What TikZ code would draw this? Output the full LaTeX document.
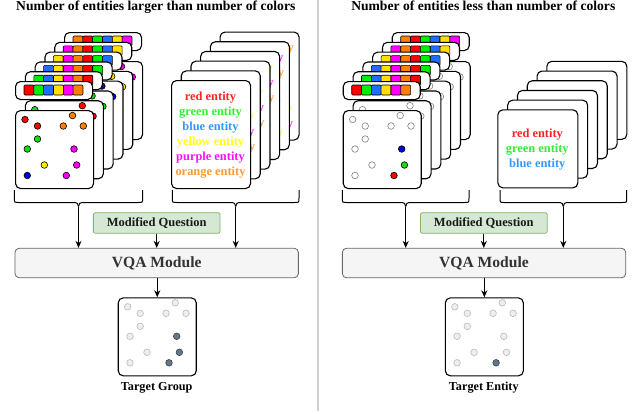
\documentclass[tikz,border=0pt]{standalone}
\usepackage{fontspec}
\setmainfont{Liberation Serif}
\usetikzlibrary{arrows.meta}
\definecolor{s0}{HTML}{FF0000}
\definecolor{s1}{HTML}{00EE00}
\definecolor{s2}{HTML}{1F6FFF}
\definecolor{s3}{HTML}{FFE000}
\definecolor{s4}{HTML}{FF00FF}
\definecolor{s5}{HTML}{FF8000}
\definecolor{d0}{HTML}{FF0000}
\definecolor{d1}{HTML}{11DD11}
\definecolor{d2}{HTML}{0000DD}
\definecolor{d3}{HTML}{FFEE00}
\definecolor{d4}{HTML}{FF00FF}
\definecolor{d5}{HTML}{FF8000}
\definecolor{t0}{HTML}{FF2222}
\definecolor{t1}{HTML}{33EE33}
\definecolor{t2}{HTML}{3399FF}
\definecolor{t3}{HTML}{FFFF11}
\definecolor{t4}{HTML}{FF11FF}
\definecolor{t5}{HTML}{FF9933}
\definecolor{mqfill}{HTML}{D5E8D4}
\definecolor{mqdraw}{HTML}{82B366}
\definecolor{vqafill}{HTML}{F5F5F5}
\definecolor{vqadraw}{HTML}{666666}
\definecolor{tgfill}{HTML}{EEEEEE}
\definecolor{tgdraw}{HTML}{BBBBBB}
\definecolor{dkfill}{HTML}{647687}
\definecolor{dkdraw}{HTML}{314354}
\definecolor{sepcol}{HTML}{D0D0D0}
\definecolor{graydot}{HTML}{808080}
\newcommand\entname[1]{\ifcase#1 red\or green\or blue\or yellow\or purple\or orange\fi\ entity}
\def\dotsL{10/9.5/0,22.5/16/0,57.5/5.5/5,48.3/16/5,68.3/16/5,22.5/29/1,12.3/39/1,59/39/4,29.3/55/3,61.7/55/4,12.3/65.5/2,51.3/65.5/4}
\def\dotsR{10/9.5/9,22.5/16/9,57.5/5.5/9,48.3/16/9,68.3/16/9,22.5/29/9,12.3/39/9,59/39/2,29.3/55/9,61.7/55/1,12.3/65.5/9,51.3/65.5/0}
\begin{document}
\begin{tikzpicture}[x=1pt,y=-1pt,
  card/.style={draw=black, fill=white, line width=1.1pt, rounded corners=5pt, inner sep=0pt, anchor=north west},
  bannerbox/.style={draw=black, fill=white, line width=1.1pt, rounded corners=5pt, minimum width=77pt, minimum height=18pt, inner sep=0pt, anchor=north west},
  sq/.style={draw=black, line width=.6pt, rounded corners=1pt},
  cdot/.style={draw=black, line width=.6pt},
  gdot/.style={draw=graydot, fill=white, line width=.6pt},
  tglight/.style={draw=tgdraw, fill=tgfill, line width=.6pt},
  tgdark/.style={draw=dkdraw, fill=dkfill, line width=.6pt},
  enttext/.style={font=\bfseries\fontsize{12.4}{14}\selectfont, inner sep=0pt},
  titletext/.style={font=\bfseries\fontsize{13.6}{16}\selectfont, inner sep=0pt, anchor=base},
  mqbox/.style={draw=mqdraw, fill=mqfill, line width=.8pt, rounded corners=2pt, minimum height=20.6pt, minimum width=126.7pt, inner sep=0pt, font=\bfseries\fontsize{12.5}{14}\selectfont, text=black!90},
  vqabox/.style={draw=vqadraw, fill=vqafill, line width=.8pt, rounded corners=4pt, minimum height=29.4pt, minimum width=283.3pt, inner sep=0pt, font=\bfseries\fontsize{15.6}{18}\selectfont, text=black!80},
  bracestyle/.style={draw=black, line width=1pt},
  arr/.style={draw=black, line width=1pt, -{Stealth[length=7pt,width=6pt]}},
  lbl/.style={font=\bfseries\fontsize{12.2}{14}\selectfont, inner sep=0pt, anchor=base}
]
\useasboundingbox (0,0) rectangle (634,413);
\fill[white] (0,0) rectangle (634,413);
% separator
\draw[sepcol, line width=1.3pt] (318,0) -- (318,411);
% titles
\node[titletext] (TL) at (155.8,10.3) {Number of entities larger than number of colors};
\node[titletext] (TR) at (483.3,10.3) {Number of entities less than number of colors};

% ---------- left image stack ----------
\foreach \k in {5,4,3,2,1,0}{
  \pgfmathsetmacro\xo{15+9.8*\k}
  \pgfmathsetmacro\yo{110-9.8*\k}
  \node[card, minimum width=78pt, minimum height=78pt] (Limg\k) at (\xo,\yo) {};
  \foreach \a/\b/\c in \dotsL {
    \pgfmathtruncatemacro\cc{mod(\c+\k,6)}
    \filldraw[cdot, fill=d\cc] (\xo+\a,\yo+\b) circle[radius=3.3pt];
  }
  \node[bannerbox] (Lban\k) at (\xo,\yo-29) {};
  \foreach \j in {0,...,5}{
    \pgfmathtruncatemacro\cc{mod(\j+\k,6)}
    \filldraw[sq, fill=s\cc] (\xo+9+9.83*\j,\yo-25) rectangle ++(9.83,10);
  }
}
% ---------- left text stack ----------
\foreach \k in {5,4,3,2,1}{
  \pgfmathsetmacro\xo{171+9.7*\k}
  \pgfmathsetmacro\yo{80-9.7*\k}
  \node[card, minimum width=79pt, minimum height=108pt] (Ltxt\k) at (\xo,\yo) {};
  \foreach \j in {0,...,5}{
    \pgfmathtruncatemacro\cc{mod(\j+\k,6)}
    \ifnum\cc=0 \else \ifnum\cc=2 \else
      \pgfmathsetmacro\hw{{25.65,31.5,28.05,33.6,34.25,34.95}[\cc]}
      \node[enttext, text=t\cc, anchor=base east] (Ly\k-\j) at (\xo+39.5+\hw,\yo+20.2+15.1*\j) {y};
    \fi\fi
  }
}
\node[card, minimum width=79pt, minimum height=108pt] (Ltxt0) at (171,80) {};
\foreach \j in {0,...,5}{
  \node[enttext, text=t\j, anchor=base] (Lent\j) at (210.5,100.2+15.1*\j) {\entname{\j}};
}

% ---------- right image stack ----------
\foreach \k in {5,4,3,2,1,0}{
  \pgfmathsetmacro\xo{342.7+9.8*\k}
  \pgfmathsetmacro\yo{110-9.8*\k}
  \node[card, minimum width=78pt, minimum height=78pt] (Rimg\k) at (\xo,\yo) {};
  \foreach \a/\b/\c in \dotsR {
    \ifnum\c=9
      \filldraw[gdot] (\xo+\a,\yo+\b) circle[radius=3.3pt];
    \else
      \ifnum\k=0
        \filldraw[cdot, fill=d\c] (\xo+\a,\yo+\b) circle[radius=3.3pt];
      \else
        \filldraw[gdot] (\xo+\a,\yo+\b) circle[radius=3.3pt];
      \fi
    \fi
  }
  \node[bannerbox] (Rban\k) at (\xo,\yo-29) {};
  \foreach \j in {0,...,5}{
    \pgfmathtruncatemacro\cc{mod(\j+\k,6)}
    \filldraw[sq, fill=s\cc] (\xo+9+9.83*\j,\yo-25) rectangle ++(9.83,10);
  }
}
% ---------- right text stack ----------
\foreach \k in {5,4,3,2,1,0}{
  \pgfmathsetmacro\xo{497.3+9.8*\k}
  \pgfmathsetmacro\yo{109.3-9.7*\k}
  \node[card, minimum width=80pt, minimum height=78pt] (Rtxt\k) at (\xo,\yo) {};
}
\node[enttext, text=t0, anchor=base] (Rent0) at (537.3,137.5) {red entity};
\node[enttext, text=t1, anchor=base] (Rent1) at (537.3,152.8) {green entity};
\node[enttext, text=t2, anchor=base] (Rent2) at (537.3,167.8) {blue entity};

% ---------- braces ----------
\foreach \xa/\xb/\xc/\nm in {14.3/142.7/78.5/BL1, 172.3/299/235.7/BL2, 342.3/469/405.7/BR1, 500/626.7/563.3/BR2}{
  \draw[bracestyle] (\xa,190) -- (\xa,198) .. controls (\xa,202.5) .. (\xa+4.5,202.5) -- (\xc-6,202.5) .. controls (\xc-1,202.5) and (\xc,203.5) .. (\xc,206.5);
  \draw[bracestyle] (\xb,190) -- (\xb,198) .. controls (\xb,202.5) .. (\xb-4.5,202.5) -- (\xc+6,202.5) .. controls (\xc+1,202.5) and (\xc,203.5) .. (\xc,206.5);
  \coordinate (\nm) at (\xc,206.5);
}

% ---------- modified question, VQA, target ----------
\node[mqbox] (MQL) at (156.7,223) {Modified Question};
\node[mqbox] (MQR) at (483.8,223) {Modified Question};
\node[vqabox] (VQAL) at (156.7,263) {VQA Module};
\node[vqabox] (VQAR) at (484,263) {VQA Module};

\draw[arr] (BL1) -- (BL1 |- VQAL.north);
\draw[arr] (BL2) -- (BL2 |- VQAL.north);
\draw[arr] (MQL.south) -- (MQL.south |- VQAL.north);
\draw[arr] (BR1) -- (BR1 |- VQAR.north);
\draw[arr] (BR2) -- (BR2 |- VQAR.north);
\draw[arr] (MQR.south) -- (MQR.south |- VQAR.north);

\node[card, minimum width=78pt, minimum height=78pt] (TGL) at (117.7,297.3) {};
\node[card, minimum width=78pt, minimum height=78pt] (TGR) at (444.8,297.3) {};
\foreach \a/\b/\c in \dotsL {
  \ifnum\c=4
    \filldraw[tgdark] (117.7+\a,297.3+\b) circle[radius=3.3pt];
  \else
    \filldraw[tglight] (117.7+\a,297.3+\b) circle[radius=3.3pt];
  \fi
}
\foreach \a/\b/\c in \dotsR {
  \ifnum\c=0
    \filldraw[tgdark] (444.8+\a,297.3+\b) circle[radius=3.3pt];
  \else
    \filldraw[tglight] (444.8+\a,297.3+\b) circle[radius=3.3pt];
  \fi
}
\draw[arr] (VQAL.south -| TGL.north) -- (TGL.north);
\draw[arr] (VQAR.south -| TGR.north) -- (TGR.north);
\node[lbl] (LabL) at (156.7,390) {Target Group};
\node[lbl] (LabR) at (483.8,390) {Target Entity};
\end{tikzpicture}
\end{document}
